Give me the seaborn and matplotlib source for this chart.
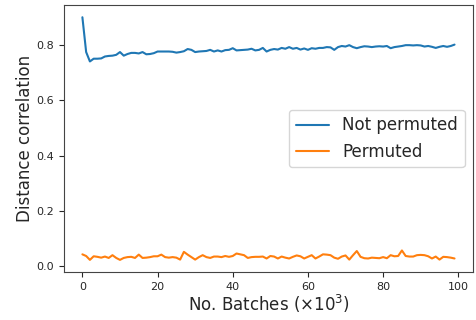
import numpy as np
import pandas as pd
import matplotlib
matplotlib.use("Agg")
import matplotlib.pyplot as plt
import seaborn as sns

batches = list(range(100))
not_permuted = [
    0.901, 0.775, 0.741, 0.751, 0.751, 0.752, 0.759, 0.761, 0.762, 0.765,
    0.775, 0.762, 0.768, 0.772, 0.772, 0.770, 0.775, 0.767, 0.768, 0.771,
    0.777, 0.777, 0.777, 0.777, 0.776, 0.773, 0.775, 0.778, 0.786, 0.783,
    0.775, 0.777, 0.778, 0.779, 0.783, 0.777, 0.781, 0.777, 0.782, 0.783,
    0.789, 0.781, 0.782, 0.783, 0.784, 0.787, 0.781, 0.783, 0.790, 0.777,
    0.783, 0.786, 0.784, 0.790, 0.787, 0.793, 0.787, 0.790, 0.784, 0.788,
    0.783, 0.789, 0.787, 0.790, 0.790, 0.793, 0.792, 0.783, 0.793, 0.797,
    0.795, 0.800, 0.793, 0.789, 0.793, 0.796, 0.795, 0.793, 0.795, 0.796,
    0.795, 0.797, 0.789, 0.793, 0.795, 0.797, 0.800, 0.800, 0.799, 0.800,
    0.799, 0.795, 0.797, 0.794, 0.790, 0.794, 0.797, 0.794, 0.797, 0.802,
]
permuted = [
    0.043, 0.037, 0.023, 0.036, 0.034, 0.031, 0.035, 0.030, 0.040, 0.030,
    0.023, 0.030, 0.033, 0.034, 0.030, 0.042, 0.030, 0.031, 0.033, 0.036,
    0.036, 0.042, 0.033, 0.031, 0.033, 0.031, 0.024, 0.052, 0.042, 0.033,
    0.024, 0.033, 0.040, 0.033, 0.030, 0.035, 0.035, 0.033, 0.037, 0.034,
    0.037, 0.046, 0.043, 0.040, 0.030, 0.033, 0.034, 0.034, 0.035, 0.028,
    0.037, 0.035, 0.028, 0.035, 0.031, 0.028, 0.034, 0.039, 0.036, 0.028,
    0.034, 0.040, 0.028, 0.035, 0.043, 0.042, 0.040, 0.031, 0.027, 0.035,
    0.039, 0.024, 0.040, 0.055, 0.034, 0.029, 0.028, 0.031, 0.030, 0.029,
    0.033, 0.029, 0.040, 0.036, 0.037, 0.057, 0.037, 0.035, 0.035, 0.040,
    0.041, 0.040, 0.036, 0.028, 0.035, 0.024, 0.034, 0.033, 0.031, 0.028,
]
series_names = ["Not permuted", "Permuted"]

df = pd.DataFrame({
    "batch": batches * 2,
    "dcor": not_permuted + permuted,
    "series": [series_names[0]] * len(batches) + [series_names[1]] * len(batches),
})

sns.set_style("ticks")
plt.rcParams["font.family"] = ["DejaVu Sans"]
fig, ax = plt.subplots(figsize=(4.76, 3.2), dpi=100)
fig.subplots_adjust(left=0.134, right=0.994, top=0.984, bottom=0.15)

sns.lineplot(data=df, x="batch", y="dcor", hue="series",
             palette=["#1f77b4", "#ff7f0e"], linewidth=1.5, ax=ax)

ax.set_xlabel(r"No. Batches ($\times10^3$)", fontsize=12, labelpad=1)
ax.set_ylabel("Distance correlation", fontsize=12, labelpad=2)
ax.tick_params(labelsize=8)
ax.set_xticks([0, 20, 40, 60, 80, 100])
ax.set_yticks([0.0, 0.2, 0.4, 0.6, 0.8])
for s in ax.spines.values():
    s.set_visible(True)
    s.set_color("#444444")
leg = ax.legend(loc="center right", fontsize=12, title=None)

fig.savefig("out.png", dpi=100)
